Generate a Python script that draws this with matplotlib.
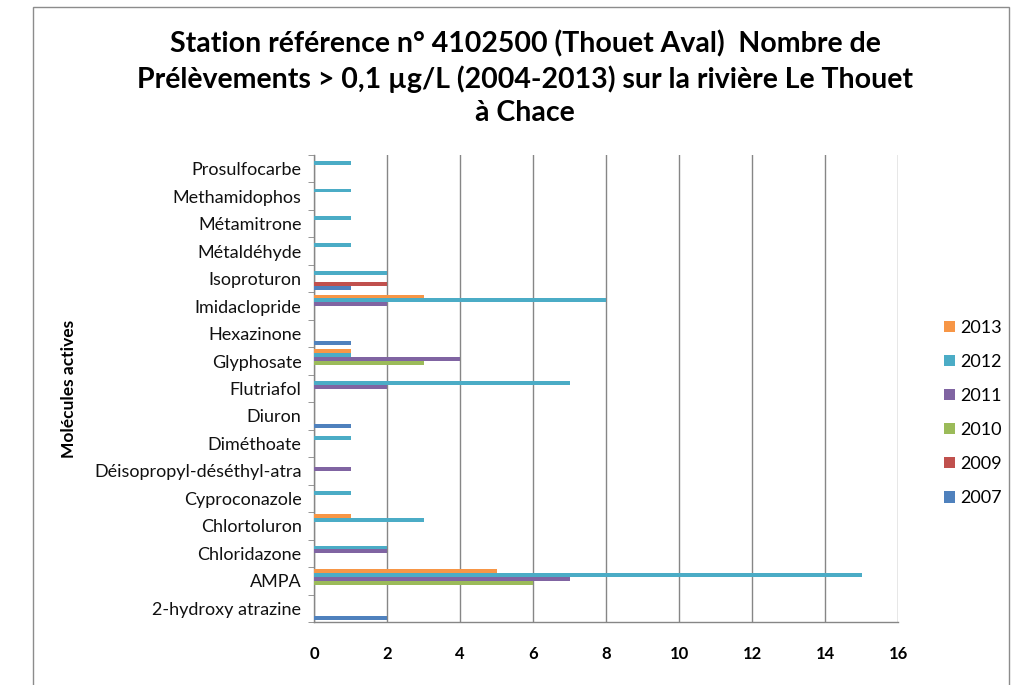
import numpy as np
import matplotlib
matplotlib.use('Agg')
import matplotlib.pyplot as plt
from matplotlib.patches import Rectangle

plt.rcParams['font.family'] = ['Lato', 'DejaVu Sans']

# ==================== données ====================
categories = ['2-hydroxy atrazine', 'AMPA', 'Chloridazone', 'Chlortoluron',
              'Cyproconazole', 'Déisopropyl-déséthyl-atra', 'Diméthoate',
              'Diuron', 'Flutriafol', 'Glyphosate', 'Hexazinone',
              'Imidaclopride', 'Isoproturon', 'Métaldéhyde', 'Métamitrone',
              'Methamidophos', 'Prosulfocarbe']
years = ['2007', '2009', '2010', '2011', '2012', '2013']
v2007 = [2, 0, 0, 0, 0, 0, 0, 1, 0, 0, 1, 0, 1, 0, 0, 0, 0]
v2009 = [0, 0, 0, 0, 0, 0, 0, 0, 0, 0, 0, 0, 2, 0, 0, 0, 0]
v2010 = [0, 6, 0, 0, 0, 0, 0, 0, 0, 3, 0, 0, 0, 0, 0, 0, 0]
v2011 = [0, 7, 2, 0, 0, 1, 0, 0, 2, 4, 0, 2, 0, 0, 0, 0, 0]
v2012 = [0, 15, 2, 3, 1, 0, 1, 0, 7, 1, 0, 8, 2, 1, 1, 1, 1]
v2013 = [0, 5, 0, 1, 0, 0, 0, 0, 0, 1, 0, 3, 0, 0, 0, 0, 0]
series = [v2007, v2009, v2010, v2011, v2012, v2013]
colors = ['#4F81BD', '#C0504D', '#9BBB59', '#8064A2', '#4BACC6', '#F79646']
xticks = list(range(0, 17, 2))

title = ("Station référence n° 4102500 (Thouet Aval)  Nombre de\n"
         "Prélèvements > 0,1 µg/L (2004-2013) sur la rivière Le Thouet\n"
         "à Chace")

W, H = 1023, 685
fig = plt.figure(figsize=(W / 100, H / 100), dpi=100)
fig.patch.set_facecolor('white')

# cadre du graphique
fig.patches.append(Rectangle((33 / W, -0.01), (1009 - 33) / W, 1 - 7 / H + 0.01,
                             transform=fig.transFigure, fill=False,
                             edgecolor='#8c8c8c', lw=1.0))

ax = fig.add_axes([314 / W, 1 - 622 / H, (898 - 314) / W, (622 - 155) / H])

y = np.arange(len(categories))
h = 0.14
for i, (vals, c, yr) in enumerate(zip(series, colors, years)):
    ax.barh(y + (i - 2.5) * h, vals, height=h, color=c, label=yr, zorder=3)

ax.set_xlim(0, 16)
ax.set_ylim(-0.5, len(categories) - 0.5)
ax.set_xticks(xticks)
ax.set_xticklabels([str(t) for t in xticks], fontsize=12, fontweight='bold')
ax.set_yticks(y)
ax.set_yticklabels(categories, fontsize=13, color='#111111')
ax.set_yticks(np.arange(-0.5, len(categories), 1), minor=True)
ax.tick_params(axis='y', which='major', length=0, pad=9)
ax.tick_params(axis='y', which='minor', length=4, color='#868686', direction='out')
ax.tick_params(axis='x', length=0, pad=17)

ax.grid(axis='x', color='#868686', lw=1, zorder=0)
for s in ['top', 'right']:
    ax.spines[s].set_visible(False)
for s in ['left', 'bottom']:
    ax.spines[s].set_color('#868686')
    ax.spines[s].set_linewidth(1)

ax.set_ylabel('Molécules actives', fontsize=12.5, fontweight='bold')
ax.yaxis.set_label_coords(-0.405, 0.5)

handles, labels = ax.get_legend_handles_labels()
leg = fig.legend(handles[::-1], labels[::-1], loc='center left',
                 bbox_to_anchor=(928 / W, 1 - 413 / H), frameon=False,
                 fontsize=13, handlelength=0.6, handleheight=0.6,
                 labelspacing=1.0, handletextpad=0.3)

fig.text(525 / W, 1 - 78 / H, title, ha='center', va='center',
         fontsize=20.5, fontweight='bold', linespacing=1.33)

fig.savefig('out.png', dpi=100)
